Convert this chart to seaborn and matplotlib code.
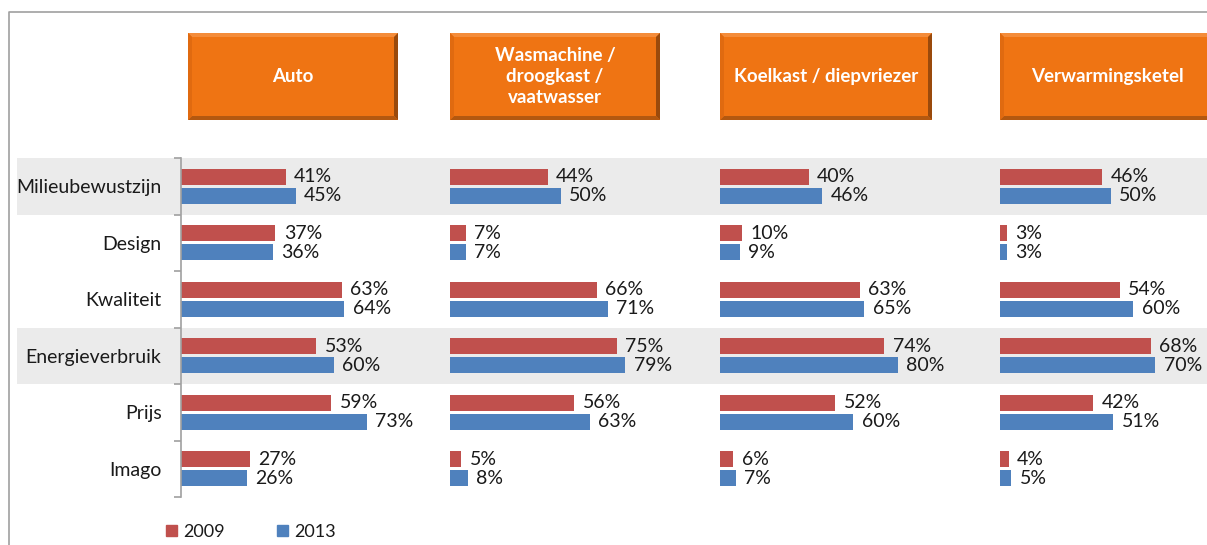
import numpy as np
import pandas as pd
import matplotlib
matplotlib.use('Agg')
from matplotlib import pyplot as plt
from matplotlib.patches import Rectangle, Polygon
import seaborn as sns

cats = ['Milieubewustzijn', 'Design', 'Kwaliteit', 'Energieverbruik', 'Prijs', 'Imago']
years = ['2009', '2013']
titles = ['Auto', 'Wasmachine /\ndroogkast /\nvaatwasser', 'Koelkast / diepvriezer', 'Verwarmingsketel']
auto_2009 = [41, 37, 63, 53, 59, 27]
auto_2013 = [45, 36, 64, 60, 73, 26]
was_2009 = [44, 7, 66, 75, 56, 5]
was_2013 = [50, 7, 71, 79, 63, 8]
koel_2009 = [40, 10, 63, 74, 52, 6]
koel_2013 = [46, 9, 65, 80, 60, 7]
verw_2009 = [46, 3, 54, 68, 42, 4]
verw_2013 = [50, 3, 60, 70, 51, 5]
series = [(auto_2009, auto_2013), (was_2009, was_2013), (koel_2009, koel_2013), (verw_2009, verw_2013)]

red = '#C0504D'
blue = '#4F81BD'
txt = '#1a1a1a'

sns.set_style('white')
plt.rcParams['font.family'] = ['Lato', 'DejaVu Sans']

W, H = 1207, 545
fig = plt.figure(figsize=(W / 100, H / 100), dpi=100)

# background layer in pixel coords: frame, grey bands, header boxes
bg = fig.add_axes([0, 0, 1, 1])
bg.set_xlim(0, W)
bg.set_ylim(H, 0)
bg.axis('off')
bg.set_zorder(0)
top, row_h = 158, (497 - 158) / 6
for i in (0, 3):
    bg.add_patch(Rectangle((17, top + i * row_h), W - 17, row_h, color='#ebebeb', lw=0))
bg.plot([9, 9, W], [H, 12, 12], color='#a0a0a0', lw=1.2)

boxes = [(188, 398), (450, 660), (720, 932), (1000, 1215)]
by0, by1 = 33, 120
b = 4
for (x0, x1), t in zip(boxes, titles):
    bg.add_patch(Rectangle((x0, by0), x1 - x0, by1 - by0, color='#EF7413', lw=0))
    bg.add_patch(Polygon([(x0, by0), (x1, by0), (x1 - b, by0 + b), (x0 + b, by0 + b)], color='#F48C3A', lw=0))
    bg.add_patch(Polygon([(x1, by0), (x1, by1), (x1 - b, by1 - b), (x1 - b, by0 + b)], color='#9A4A0C', lw=0))
    bg.add_patch(Polygon([(x0, by1), (x1, by1), (x1 - b, by1 - b), (x0 + b, by1 - b)], color='#B35810', lw=0))
    bg.add_patch(Polygon([(x0, by0), (x0, by1), (x0 + b, by1 - b), (x0 + b, by0 + b)], color='#E06A10', lw=0))
    bg.text((x0 + min(x1, W + 8)) / 2, (by0 + by1) / 2, t, ha='center', va='center', color='white',
            fontsize=13.5, fontweight='bold', linespacing=1.3)

panels = [(181, 260, 2.55), (450, 260, 2.22), (720, 260, 2.22), (1000, 207, 2.22)]
axes = []
for (x0, w, scale), (s09, s13) in zip(panels, series):
    ax = fig.add_axes([x0 / W, 1 - 497 / H, w / W, 339 / H])
    ax.set_zorder(1)
    ax.patch.set_alpha(0)
    df = pd.DataFrame({'cat': cats * 2, 'year': [years[0]] * 6 + [years[1]] * 6, 'val': s09 + s13})
    sns.barplot(data=df, x='val', y='cat', hue='year', order=cats, hue_order=years,
                palette=[red, blue], saturation=1, width=0.68, gap=0.16, orient='h', ax=ax,
                legend=False, edgecolor='none', linewidth=0)
    for c in ax.containers:
        ax.bar_label(c, fmt='%d%%', padding=6, fontsize=14, color=txt)
    ax.set_xlim(0, w / scale)
    ax.set_ylim(5.5, -0.5)
    ax.set_xlabel('')
    ax.set_ylabel('')
    ax.set_xticks([])
    for s in ax.spines.values():
        s.set_visible(False)
    ax.set_yticks([])
    axes.append(ax)

ax1 = axes[0]
ax1.spines['left'].set_visible(True)
ax1.spines['left'].set_color('#a0a0a0')
ax1.spines['left'].set_linewidth(1.2)
ax1.set_yticks(range(6))
ax1.set_yticklabels(cats, fontsize=14, color=txt)
ax1.set_yticks(np.arange(-0.5, 6, 1), minor=True)
ax1.tick_params(axis='y', which='major', left=False, length=0, pad=14)
ax1.tick_params(axis='y', which='minor', left=True, length=5, width=1.2, color='#a0a0a0')

handles = [Rectangle((0, 0), 1, 1, color=red), Rectangle((0, 0), 1, 1, color=blue)]
fig.legend(handles, years, loc='center left', bbox_to_anchor=(150 / W, 1 - 532 / H), ncol=2,
           frameon=False, fontsize=13, handlelength=0.6, handleheight=0.6, handletextpad=0.35,
           columnspacing=2.9, labelcolor=txt)

fig.savefig('out.png', dpi=100)
